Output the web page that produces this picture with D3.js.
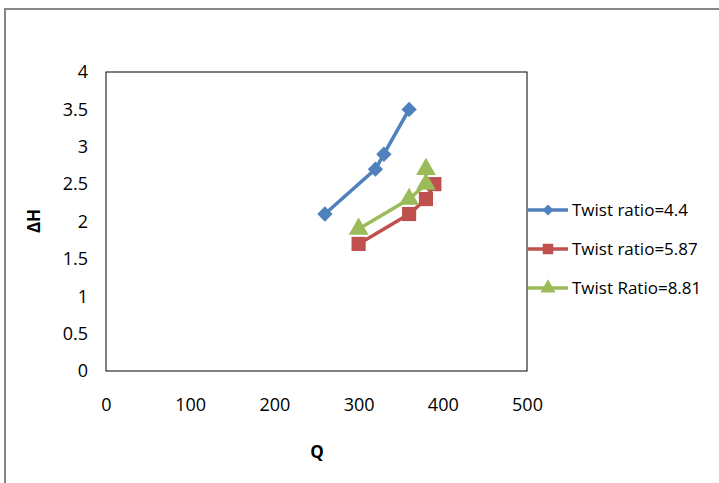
<!DOCTYPE html>
<html>
<head>
<meta charset="utf-8">
<script src="https://cdn.jsdelivr.net/npm/d3@7"></script>
<style>
  body { margin: 0; background: #fff; }
  text { font-family: "Open Sans", sans-serif; }
</style>
</head>
<body>
<svg width="719" height="483"></svg>
<script>
const seriesNames = ["Twist ratio=4.4", "Twist ratio=5.87", "Twist Ratio=8.81"];
const colors = ["#4F81BD", "#C0504D", "#9BBB59"];
const shapes = ["diamond", "square", "triangle"];

const qA = [260, 320, 330, 360];
const hA = [2.1, 2.7, 2.9, 3.5];
const qB = [300, 360, 380, 390];
const hB = [1.7, 2.1, 2.3, 2.5];
const qC = [300, 360, 380, 380];
const hC = [1.9, 2.3, 2.5, 2.7];

const xTicks = [0, 100, 200, 300, 400, 500];
const yTicks = [0, 0.5, 1, 1.5, 2, 2.5, 3, 3.5, 4];

const series = [
  { q: qA, h: hA },
  { q: qB, h: hB },
  { q: qC, h: hC },
];

const svg = d3.select("svg");

// outer chart border
svg.append("rect")
  .attr("x", 5).attr("y", 9)
  .attr("width", 730).attr("height", 500)
  .attr("fill", "none")
  .attr("stroke", "#868686")
  .attr("stroke-width", 2);

const x = d3.scaleLinear().domain([0, 500]).range([106, 527]);
const y = d3.scaleLinear().domain([0, 4]).range([371, 72]);

// plot area
svg.append("rect")
  .attr("x", x(0)).attr("y", y(4))
  .attr("width", x(500) - x(0)).attr("height", y(0) - y(4))
  .attr("fill", "none")
  .attr("stroke", "#000")
  .attr("stroke-width", 1);

const xAxis = svg.append("g")
  .attr("transform", `translate(0,${y(0)})`)
  .call(d3.axisBottom(x).tickValues(xTicks).tickSize(0).tickPadding(27));
xAxis.select(".domain").remove();
xAxis.selectAll("text").attr("font-size", 18).attr("fill", "#000")
  .style("font-family", "'Open Sans', sans-serif");

const yAxis = svg.append("g")
  .attr("transform", `translate(${x(0)},0)`)
  .call(d3.axisLeft(y).tickValues(yTicks).tickFormat(d => String(d)).tickSize(0).tickPadding(18));
yAxis.select(".domain").remove();
yAxis.selectAll("text").attr("font-size", 18).attr("fill", "#000")
  .style("font-family", "'Open Sans', sans-serif");

svg.append("text")
  .attr("x", 317).attr("y", 458)
  .attr("text-anchor", "middle")
  .attr("font-size", 17).attr("font-weight", "bold")
  .text("Q");

svg.append("text")
  .attr("transform", "translate(40,221) rotate(-90)")
  .attr("text-anchor", "middle")
  .attr("font-size", 17).attr("font-weight", "bold")
  .text("ΔH");

const symbolFor = {
  diamond: d3.symbol().type(d3.symbolDiamond2).size(150),
  square: d3.symbol().type(d3.symbolSquare).size(200),
  triangle: d3.symbol().type(d3.symbolTriangle).size(170),
};

const line = d3.line().x(d => x(d[0])).y(d => y(d[1]));

series.forEach((s, i) => {
  const pts = s.q.map((q, j) => [q, s.h[j]]);
  svg.append("path")
    .attr("d", line(pts))
    .attr("fill", "none")
    .attr("stroke", colors[i])
    .attr("stroke-width", 3.5);
  svg.append("g").selectAll("path")
    .data(pts)
    .join("path")
    .attr("transform", d => `translate(${x(d[0])},${y(d[1])})`)
    .attr("d", symbolFor[shapes[i]])
    .attr("fill", colors[i]);
});

// legend
const legend = svg.append("g");
const legY = [210, 249, 288];
seriesNames.forEach((name, i) => {
  const g = legend.append("g").attr("transform", `translate(527,${legY[i]})`);
  g.append("line")
    .attr("x1", 1).attr("x2", 41)
    .attr("stroke", colors[i]).attr("stroke-width", 3.5);
  g.append("path")
    .attr("transform", "translate(21,0)")
    .attr("d", shapes[i] === "diamond" ? d3.symbol().type(d3.symbolDiamond2).size(80)()
      : shapes[i] === "square" ? d3.symbol().type(d3.symbolSquare).size(110)()
      : d3.symbol().type(d3.symbolTriangle).size(100)())
    .attr("fill", colors[i]);
  g.append("text")
    .attr("x", 45).attr("dy", "0.35em")
    .attr("font-size", 17)
    .text(name);
});
</script>
</body>
</html>
